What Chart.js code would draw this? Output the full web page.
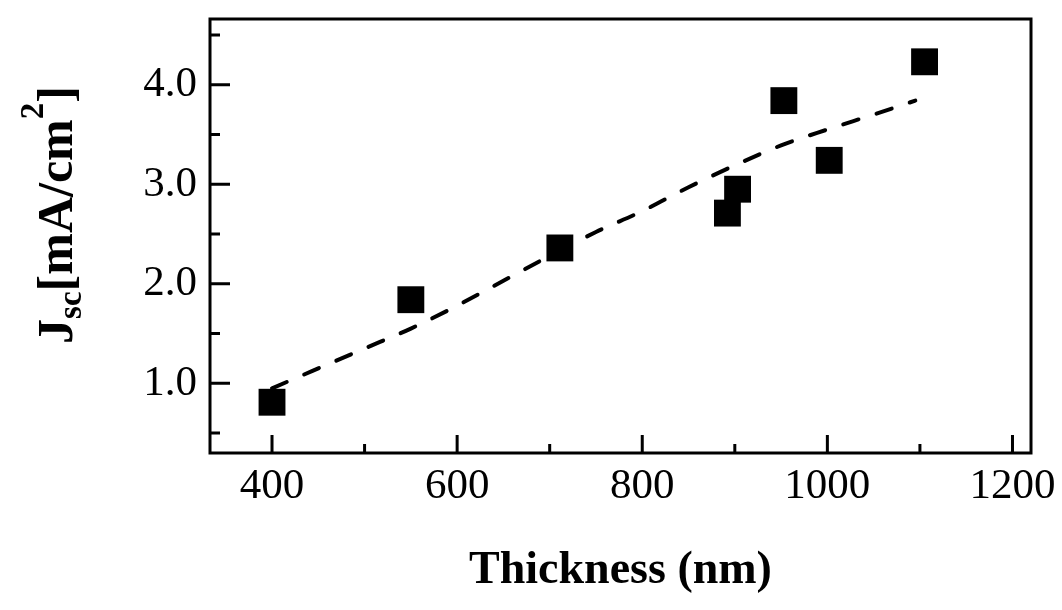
<!DOCTYPE html>
<html lang="en">
<head>
    <meta charset="UTF-8">
    <title>Jsc vs Thickness</title>
    <style>
        html, body { margin: 0; padding: 0; background: #fff; }
        #wrap { width: 1062px; height: 610px; }
    </style>
    <script src="https://cdn.jsdelivr.net/npm/chart.js"></script>
</head>
<body>
    <div id="wrap"><canvas id="chart"></canvas></div>

    <script>
        // measured points
        const thickness = [400, 550, 711, 892, 903, 953, 1002, 1105];
        const jsc = [0.81, 1.84, 2.36, 2.71, 2.95, 3.84, 3.24, 4.23];

        // dashed guide line
        const fitThickness = [400, 450, 500, 550, 600, 650, 700, 750, 800, 850, 900, 950, 1000, 1050, 1095];
        const fitJsc = [0.95, 1.15, 1.35, 1.55, 1.78, 2.03, 2.28, 2.52, 2.73, 2.97, 3.19, 3.39, 3.55, 3.70, 3.84];

        const xMajor = [400, 600, 800, 1000, 1200];
        const xMinor = [500, 700, 900, 1100];
        const yMajor = [1.0, 2.0, 3.0, 4.0];
        const yMinor = [0.5, 1.5, 2.5, 3.5, 4.5];

        const serif = '"Liberation Serif", "DejaVu Serif", serif';

        // box, inward ticks and the y title with sub/superscript
        const frame = {
            id: 'frame',
            afterDraw(chart) {
                const ctx = chart.ctx;
                const a = chart.chartArea;
                const xs = chart.scales.x;
                const ys = chart.scales.y;
                ctx.save();
                ctx.strokeStyle = '#000';
                ctx.lineWidth = 3;
                ctx.strokeRect(a.left, a.top, a.right - a.left, a.bottom - a.top);

                ctx.beginPath();
                xMajor.forEach(v => {
                    const px = xs.getPixelForValue(v);
                    ctx.moveTo(px, a.bottom); ctx.lineTo(px, a.bottom - 18);
                });
                xMinor.forEach(v => {
                    const px = xs.getPixelForValue(v);
                    ctx.moveTo(px, a.bottom); ctx.lineTo(px, a.bottom - 9);
                });
                yMajor.forEach(v => {
                    const py = ys.getPixelForValue(v);
                    ctx.moveTo(a.left, py); ctx.lineTo(a.left + 20, py);
                });
                yMinor.forEach(v => {
                    const py = ys.getPixelForValue(v);
                    ctx.moveTo(a.left, py); ctx.lineTo(a.left + 10, py);
                });
                ctx.stroke();

                // y axis title
                const big = 'bold 50px ' + serif;
                const small = 'bold 33px ' + serif;
                const parts = [
                    { t: 'J', f: big, dy: 0 },
                    { t: 'sc', f: small, dy: 9 },
                    { t: '[mA/cm', f: big, dy: 0 },
                    { t: '2', f: small, dy: -29 },
                    { t: ']', f: big, dy: 0 }
                ];
                let total = 0;
                parts.forEach(p => { ctx.font = p.f; p.w = ctx.measureText(p.t).width; total += p.w; });
                ctx.translate(72, 215);
                ctx.rotate(-Math.PI / 2);
                ctx.fillStyle = '#000';
                ctx.textBaseline = 'alphabetic';
                let x = -total / 2;
                parts.forEach(p => {
                    ctx.font = p.f;
                    ctx.fillText(p.t, x, p.dy);
                    x += p.w;
                });
                ctx.restore();
            }
        };

        new Chart(document.getElementById('chart'), {
            type: 'scatter',
            data: {
                datasets: [
                    {
                        label: 'Jsc',
                        data: thickness.map((t, i) => ({ x: t, y: jsc[i] })),
                        pointStyle: 'rect',
                        pointRadius: 19,
                        pointHoverRadius: 19,
                        backgroundColor: '#000',
                        borderColor: '#000',
                        borderWidth: 0,
                        order: 0
                    },
                    {
                        type: 'line',
                        label: 'fit',
                        data: fitThickness.map((t, i) => ({ x: t, y: fitJsc[i] })),
                        borderColor: '#000',
                        borderWidth: 4,
                        borderDash: [16, 19],
                        borderCapStyle: 'round',
                        pointRadius: 0,
                        cubicInterpolationMode: 'monotone',
                        fill: false,
                        order: 1
                    }
                ]
            },
            options: {
                responsive: true,
                maintainAspectRatio: false,
                animation: false,
                layout: { padding: { top: 14, right: 31, left: 0, bottom: 0 } },
                plugins: {
                    legend: { display: false },
                    tooltip: { enabled: false }
                },
                scales: {
                    x: {
                        type: 'linear',
                        min: 333,
                        max: 1220,
                        grid: { display: false },
                        border: { display: false },
                        afterBuildTicks: s => { s.ticks = xMajor.map(v => ({ value: v })); },
                        afterFit: s => { s.height = 157; s.paddingLeft = 0; s.paddingRight = 0; },
                        ticks: {
                            padding: 0,
                            maxRotation: 0,
                            color: '#000',
                            font: { family: serif, size: 43 },
                            callback: v => String(v)
                        },
                        title: {
                            display: true,
                            text: 'Thickness (nm)',
                            color: '#000',
                            font: { family: serif, size: 46, weight: 'bold' },
                            padding: { top: 0, bottom: 11 }
                        }
                    },
                    y: {
                        min: 0.3,
                        max: 4.66,
                        grid: { display: false },
                        border: { display: false },
                        afterBuildTicks: s => { s.ticks = yMajor.map(v => ({ value: v })); },
                        afterFit: s => { s.width = 210; s.paddingTop = 0; s.paddingBottom = 0; },
                        ticks: {
                            padding: 5,
                            color: '#000',
                            font: { family: serif, size: 43 },
                            callback: v => v.toFixed(1)
                        }
                    }
                }
            },
            plugins: [frame]
        });
    </script>
</body>
</html>
